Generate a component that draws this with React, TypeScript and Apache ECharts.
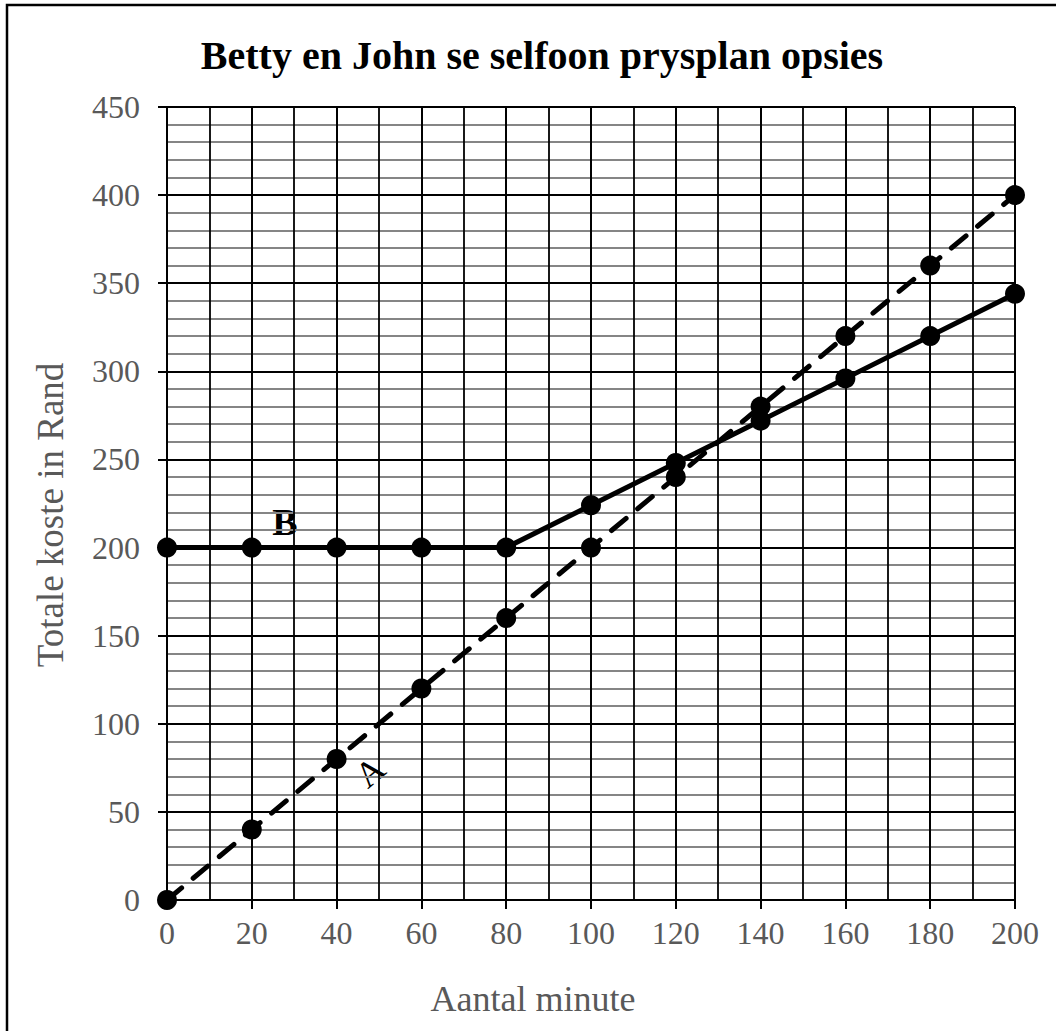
import React, { useEffect, useRef } from "react";
import * as echarts from "echarts";

const minutes = [0, 20, 40, 60, 80, 100, 120, 140, 160, 180, 200];
const costA = [0, 40, 80, 120, 160, 200, 240, 280, 320, 360, 400];
const costB = [200, 200, 200, 200, 200, 224, 248, 272, 296, 320, 344];
const titleText = "Betty en John se selfoon prysplan opsies";
const xName = "Aantal minute";
const yName = "Totale koste in Rand";
const labelA = "A";
const labelB = "B";

const FONT = "'Liberation Serif', 'Times New Roman', serif";

export default function App() {
  const ref = useRef<HTMLDivElement>(null);
  useEffect(() => {
    if (!ref.current) return;
    const chart = echarts.init(ref.current, undefined, { renderer: "svg" });
    const dataA = minutes.map((m, i) => [m, costA[i]]);
    const dataB = minutes.map((m, i) => [m, costB[i]]);
    chart.setOption({
      animation: false,
      backgroundColor: "#ffffff",
      grid: { left: 167, top: 107, right: 41, bottom: 131, containLabel: false },
      xAxis: {
        type: "value",
        min: 0,
        max: 200,
        interval: 20,
        axisLine: { show: true, onZero: false, lineStyle: { color: "#000", width: 2 } },
        axisTick: { show: true, length: 9, lineStyle: { color: "#000", width: 2 } },
        axisLabel: { color: "#595959", fontFamily: FONT, fontSize: 32, margin: 17 },
        splitLine: { show: true, lineStyle: { color: "#000", width: 2 } },
        minorTick: { show: false, splitNumber: 2 },
        minorSplitLine: { show: true, lineStyle: { color: "#000", width: 1.8 } },
      },
      yAxis: {
        type: "value",
        min: 0,
        max: 450,
        interval: 50,
        axisLine: { show: true, lineStyle: { color: "#000", width: 2 } },
        axisTick: { show: true, length: 9, lineStyle: { color: "#000", width: 2 } },
        axisLabel: { color: "#595959", fontFamily: FONT, fontSize: 32, margin: 27 },
        splitLine: { show: true, lineStyle: { color: "#000", width: 2.2 } },
        minorTick: { show: false, splitNumber: 5 },
        minorSplitLine: { show: true, lineStyle: { color: "#858585", width: 2 } },
      },
      series: [
        {
          name: "A",
          type: "line",
          data: dataA,
          symbol: "circle",
          symbolSize: 20,
          itemStyle: { color: "#000" },
          lineStyle: { color: "#000", width: 5, type: [19, 15], cap: "round" },
          z: 3,
        },
        {
          name: "B",
          type: "line",
          data: dataB,
          symbol: "circle",
          symbolSize: 20,
          itemStyle: { color: "#000" },
          lineStyle: { color: "#000", width: 5 },
          z: 4,
        },
      ],
      graphic: [
        {
          type: "rect",
          shape: { x: 7, y: 5, width: 1100, height: 1100 },
          style: { fill: "none", stroke: "#000", lineWidth: 2.5 },
          silent: true,
        },
        {
          type: "text",
          x: 542,
          y: 55,
          style: {
            text: titleText,
            fontFamily: FONT,
            fontWeight: "bold",
            fontSize: 40,
            fill: "#000",
            align: "center",
            verticalAlign: "middle",
          },
        },
        {
          type: "text",
          x: 533,
          y: 999,
          style: {
            text: xName,
            fontFamily: FONT,
            fontSize: 36,
            fill: "#595959",
            align: "center",
            verticalAlign: "middle",
          },
        },
        {
          type: "text",
          x: 50,
          y: 515,
          rotation: Math.PI / 2,
          style: {
            text: yName,
            fontFamily: FONT,
            fontSize: 37,
            fill: "#595959",
            align: "center",
            verticalAlign: "middle",
          },
        },
        {
          type: "text",
          x: 285,
          y: 522,
          style: {
            text: labelB,
            fontFamily: FONT,
            fontWeight: "bold",
            fontSize: 38,
            fill: "#000",
            align: "center",
            verticalAlign: "middle",
          },
        },
        {
          type: "text",
          x: 370,
          y: 772,
          rotation: 0.7,
          style: {
            text: labelA,
            fontFamily: FONT,
            fontSize: 36,
            fill: "#000",
            align: "center",
            verticalAlign: "middle",
          },
        },
      ],
    });
    return () => chart.dispose();
  }, []);
  return (
    <div
      ref={ref}
      style={{ position: "fixed", left: 0, top: 0, width: 1056, height: 1031 }}
    />
  );
}
